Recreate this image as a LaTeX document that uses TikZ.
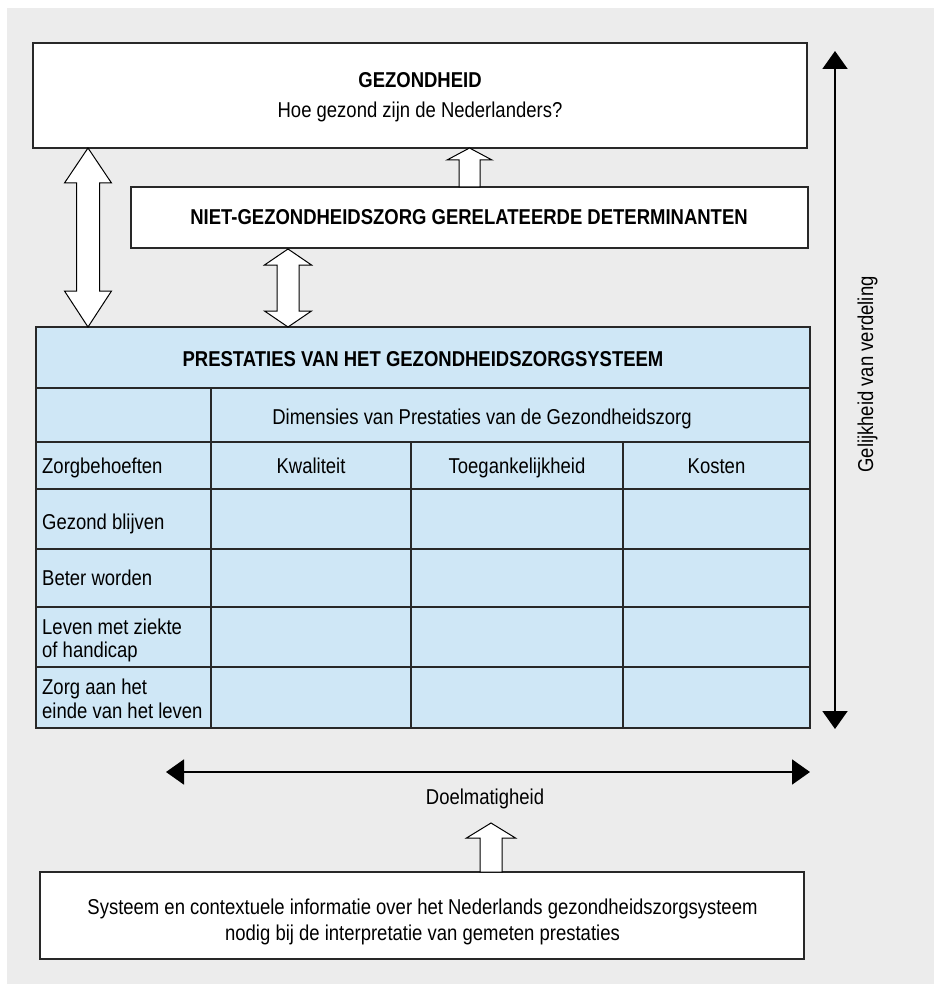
\documentclass[tikz,border=0pt]{standalone}
\usepackage{fontspec}
\setmainfont{Liberation Sans}[FakeStretch=0.86]
\usepackage{tikz}
\usetikzlibrary{arrows.meta,calc,positioning}
\definecolor{bggrey}{RGB}{236,236,236}
\definecolor{cellblue}{RGB}{207,231,246}
\definecolor{edge}{RGB}{40,40,40}

\begin{document}
\begin{tikzpicture}[x=1pt,y=-1pt,font=\fontsize{21.5}{24}\selectfont,
  box/.style={draw=edge,line width=1.2pt,fill=white,inner sep=0pt},
  hollow/.style={draw=black,line width=1pt,fill=white},
  grid/.style={draw=edge,line width=1.2pt},
  txt/.style={inner sep=0pt,anchor=base},
  lefttxt/.style={inner sep=0pt,anchor=base west},
  measure/.style={line width=2pt,{Triangle[length=18pt,width=25pt]}-{Triangle[length=18pt,width=25pt]}}]
\useasboundingbox (0,0) rectangle (934,984);
\fill[bggrey] (7,8) rectangle (934,984);

% boxes
\node[box,minimum width=774pt,minimum height=105pt] (gezondheid) at (420,95.5) {};
\node[box,minimum width=677pt,minimum height=61pt] (determinanten) at (469.5,217.5) {};
\node[box,fill=cellblue,minimum width=774pt,minimum height=401pt] (prestaties) at (423,527.5) {};
\node[box,minimum width=764pt,minimum height=87pt] (context) at (422,915.5) {};

\node[txt] (gezt) at (420,87.5) {\bfseries GEZONDHEID};
\node[txt] (gezq) at (420,117.5) {Hoe gezond zijn de Nederlanders?};
\node[txt] (dett) at (469,224.5) {\bfseries NIET-GEZONDHEIDSZORG GERELATEERDE DETERMINANTEN};

% table
\foreach \y in {388,442,489,549,607,667}
  \draw[grid] (36,\y) -- (810,\y);
\draw[grid] (211,388) -- (211,728);
\foreach \x in {411,623}
  \draw[grid] (\x,442) -- (\x,728);
\draw[grid] (prestaties.north west) rectangle (prestaties.south east);

\node[txt] (prest) at (423,366.5) {\bfseries PRESTATIES VAN HET GEZONDHEIDSZORGSYSTEEM};
\node[txt] (dims) at (482,424.5) {Dimensies van Prestaties van de Gezondheidszorg};
\node[lefttxt] (behoefte) at (42,473) {Zorgbehoeften};
\node[txt] (kwal) at (311,473) {Kwaliteit};
\node[txt] (toeg) at (517,473) {Toegankelijkheid};
\node[txt] (kost) at (716.5,473) {Kosten};
\node[lefttxt] (blijven) at (42,529.5) {Gezond blijven};
\node[lefttxt] (worden) at (42,585) {Beter worden};
\node[lefttxt] (leven) at (42,634) {Leven met ziekte};
\node[lefttxt] (leven2) at (42,657.5) {of handicap};
\node[lefttxt] (einde) at (42,694) {Zorg aan het};
\node[lefttxt] (einde2) at (42,718) {einde van het leven};

% block arrows
\draw[hollow] (88,148) -- (111.5,183) -- (99.5,183) -- (99.5,291) -- (111.5,291) -- (88,327)
  -- (64.5,291) -- (76.5,291) -- (76.5,183) -- (64.5,183) -- cycle;
\draw[hollow] (288,249) -- (311.5,265) -- (299,265) -- (299,311) -- (311.5,311) -- (288,327)
  -- (264.5,311) -- (277,311) -- (277,265) -- (264.5,265) -- cycle;
\draw[hollow] (469.5,148) -- (492,160) -- (480,160) -- (480,187) -- (459,187) -- (459,160)
  -- (447,160) -- cycle;
\draw[hollow] (491,823) -- (515.5,838) -- (502,838) -- (502,872) -- (480,872) -- (480,838)
  -- (466.5,838) -- cycle;

% axes
\coordinate (eqtop) at (835,51);
\coordinate (eqbot) at (835,729);
\draw[measure] (eqtop) -- (eqbot);
\node[txt,rotate=90] (gelijk) at (873,374.5) {Gelijkheid van verdeling};

\coordinate (effl) at (166,772);
\coordinate (effr) at (810,772);
\draw[measure] (effl) -- (effr);
\node[txt] (doel) at (485,804) {Doelmatigheid};

\node[txt] (ctx1) at (422.5,914) {Systeem en contextuele informatie over het Nederlands gezondheidszorgsysteem};
\node[txt] (ctx2) at (422.5,940) {nodig bij de interpretatie van gemeten prestaties};
\end{tikzpicture}
\end{document}
